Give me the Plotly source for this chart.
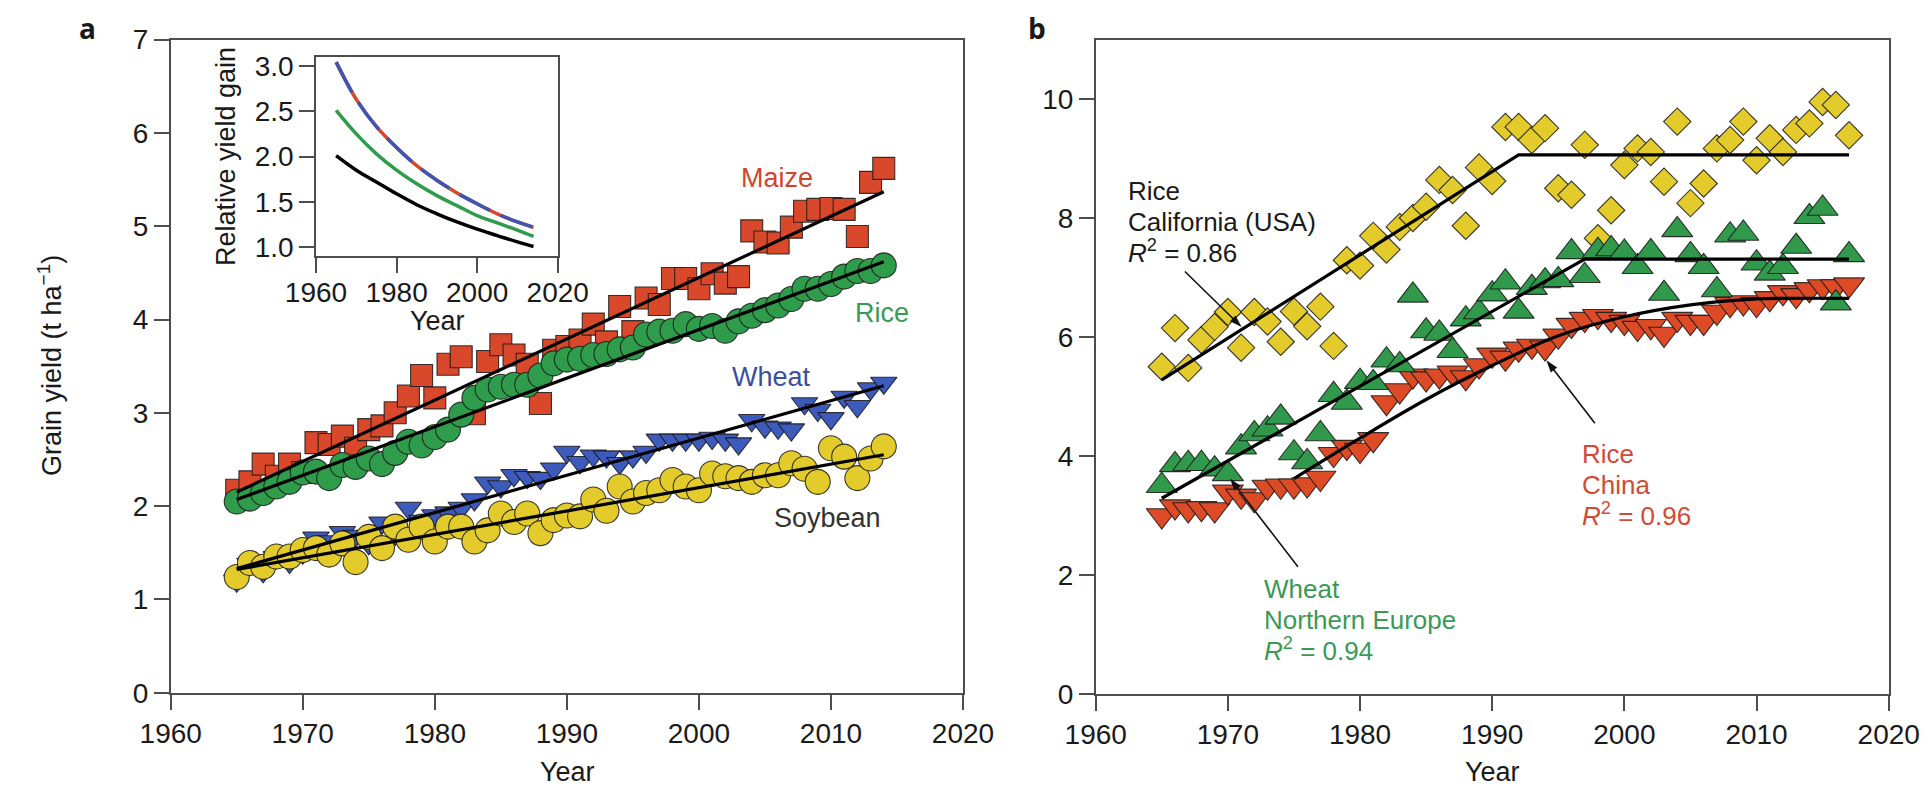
import plotly.graph_objects as go

# The page body has an 8 px margin; the figure is sized so that it fits the
# 1932x794 window exactly, and all pixel positions below are window pixels.
OFF = 8
FW, FH = 1932 - 2 * OFF, 794 - 2 * OFF
FONT = "Liberation Sans, Arial, Helvetica, sans-serif"

def px(x):
    return (x - OFF) / FW

def py(y):
    return 1 - (y - OFF) / FH

# ---------------- Panel a data (world average yields, t/ha) ----------------
years_a = list(range(1965, 2015))
maize = [2.17, 2.26, 2.45, 2.32, 2.45, 2.36, 2.68, 2.66, 2.75, 2.62,
         2.82, 2.86, 3.00, 3.18, 3.40, 3.16, 3.52, 3.60, 2.99, 3.55,
         3.73, 3.62, 3.52, 3.10, 3.67, 3.71, 3.78, 3.95, 3.76, 4.14,
         3.87, 4.23, 4.16, 4.44, 4.44, 4.33, 4.49, 4.39, 4.46, 4.95,
         4.83, 4.82, 4.99, 5.16, 5.18, 5.19, 5.18, 4.89, 5.47, 5.62]
rice = [2.05, 2.08, 2.14, 2.21, 2.26, 2.36, 2.37, 2.30, 2.44, 2.42,
        2.51, 2.45, 2.57, 2.69, 2.65, 2.74, 2.82, 2.98, 3.16, 3.25,
        3.28, 3.30, 3.30, 3.40, 3.53, 3.57, 3.58, 3.62, 3.63, 3.68,
        3.70, 3.84, 3.87, 3.88, 3.95, 3.90, 3.93, 3.88, 3.98, 4.04,
        4.10, 4.15, 4.22, 4.33, 4.33, 4.38, 4.46, 4.52, 4.52, 4.58]
wheat = [1.20, 1.38, 1.30, 1.45, 1.40, 1.50, 1.66, 1.62, 1.72, 1.68,
         1.60, 1.82, 1.70, 1.98, 1.84, 1.90, 1.93, 1.98, 2.07, 2.25,
         2.21, 2.33, 2.31, 2.30, 2.40, 2.58, 2.47, 2.54, 2.53, 2.46,
         2.53, 2.58, 2.71, 2.71, 2.71, 2.71, 2.73, 2.71, 2.67, 2.92,
         2.85, 2.84, 2.82, 3.10, 3.03, 2.94, 3.17, 3.07, 3.26, 3.32]
soybean = [1.24, 1.39, 1.35, 1.46, 1.46, 1.53, 1.55, 1.48, 1.60, 1.40,
           1.67, 1.55, 1.78, 1.64, 1.78, 1.62, 1.78, 1.78, 1.62, 1.74,
           1.92, 1.83, 1.92, 1.71, 1.85, 1.90, 1.89, 2.07, 1.95, 2.21,
           2.05, 2.14, 2.17, 2.28, 2.21, 2.17, 2.35, 2.32, 2.30, 2.26,
           2.33, 2.33, 2.46, 2.40, 2.26, 2.62, 2.53, 2.30, 2.51, 2.64]

# linear trend lines (end points)
fit_years_a = [1965, 2014]
maize_fit = [2.15, 5.37]
rice_fit = [2.07, 4.62]
wheat_fit = [1.33, 3.29]
soybean_fit = [1.32, 2.55]

# inset: relative yield gain
inset_years = [1965, 1970, 1975, 1980, 1985, 1990, 1995, 2000, 2005, 2010, 2014]
gain_maize_wheat = [3.04, 2.63, 2.33, 2.10, 1.90, 1.74, 1.60, 1.48, 1.37, 1.28, 1.22]
gain_rice = [2.51, 2.25, 2.03, 1.85, 1.70, 1.57, 1.46, 1.35, 1.27, 1.19, 1.12]
gain_soybean = [2.01, 1.85, 1.72, 1.59, 1.47, 1.37, 1.28, 1.20, 1.13, 1.06, 1.01]

# ---------------- Panel b data ----------------
years_b = list(range(1965, 2018))
rice_california = [5.50, 6.15, 5.48, 5.95, 6.17, 6.42, 5.82, 6.42, 6.26, 5.92,
                   6.43, 6.18, 6.51, 5.85, 7.29, 7.20, 7.70, 7.47, 7.85, 8.00,
                   8.19, 8.64, 8.47, 7.87, 8.85, 8.62, 9.53, 9.53, 9.31, 9.51,
                   8.50, 8.39, 9.23, 7.66, 8.13, 8.89, 9.17, 9.11, 8.61, 9.62,
                   8.25, 8.58, 9.17, 9.31, 9.62, 8.97, 9.34, 9.11, 9.48, 9.59,
                   9.95, 9.90, 9.39]
wheat_neurope = [3.50, 3.85, 3.87, 3.87, 3.78, 3.70, 4.15, 4.37, 4.45, 4.65,
                 4.05, 3.90, 4.37, 5.03, 4.90, 5.25, 5.23, 5.61, 5.53, 6.70,
                 6.10, 6.06, 5.77, 6.30, 6.42, 6.72, 6.92, 6.43, 6.83, 6.94,
                 6.96, 7.43, 7.03, 7.45, 7.48, 7.42, 7.18, 7.43, 6.73, 7.80,
                 7.38, 7.18, 6.79, 7.71, 7.74, 7.24, 7.07, 7.18, 7.52, 8.02,
                 8.16, 6.57, 7.38]
rice_china = [3.00, 3.15, 3.10, 3.12, 3.10, 3.40, 3.33, 3.27, 3.48, 3.50,
              3.50, 3.52, 3.63, 4.03, 4.15, 4.10, 4.28, 4.90, 5.10, 5.35,
              5.30, 5.35, 5.40, 5.32, 5.52, 5.70, 5.65, 5.80, 5.85, 5.82,
              6.02, 6.20, 6.30, 6.35, 6.30, 6.25, 6.15, 6.18, 6.05, 6.30,
              6.25, 6.25, 6.42, 6.55, 6.58, 6.55, 6.65, 6.75, 6.70, 6.80,
              6.85, 6.85, 6.88]

# piecewise fits
cal_fit_years = [1965, 1992, 2017]
cal_fit = [5.28, 9.06, 9.06]
wne_fit_years = [1965, 1997, 2017]
wne_fit = [3.29, 7.31, 7.31]
china_fit_years = [1975, 1980, 1985, 1990, 1995, 2000, 2005, 2010, 2012, 2017]
china_fit = [3.62, 4.30, 4.95, 5.52, 6.02, 6.34, 6.54, 6.64, 6.65, 6.65]

# annotation arrows in panel b: ([tail year, head year], [tail value, head value])
arrow_cal = ([1966.75, 1971.04], [7.10, 6.17])
arrow_wne = ([1975.3, 1970.16], [2.14, 3.62])
arrow_china = ([1997.77, 1994.1], [4.55, 5.61])

# ---------------- colours ----------------
C_RED = "#d9482a"
C_GREEN = "#2f9c4b"
C_BLUE = "#3d5bbd"
C_YELLOW = "#e4cb2c"
EDGE = "rgba(25,25,25,0.85)"

fig = go.Figure()

def markers(x, y, symbol, size, color, xa, ya):
    fig.add_trace(go.Scatter(
        x=x, y=y, mode="markers", xaxis=xa, yaxis=ya, showlegend=False,
        hoverinfo="skip",
        marker=dict(symbol=symbol, size=size, color=color,
                    line=dict(color=EDGE, width=1.1))))

def line(x, y, xa, ya, color="black", width=3.2, dash="solid", shape="linear"):
    fig.add_trace(go.Scatter(
        x=x, y=y, mode="lines", xaxis=xa, yaxis=ya, showlegend=False,
        hoverinfo="skip",
        line=dict(color=color, width=width, dash=dash, shape=shape)))

def arrow(xy, xa, ya):
    fig.add_trace(go.Scatter(
        x=xy[0], y=xy[1], mode="lines+markers", xaxis=xa, yaxis=ya,
        showlegend=False, hoverinfo="skip",
        line=dict(color="#111111", width=1.6),
        marker=dict(symbol=["circle", "arrow"], size=[1, 13],
                    opacity=[0, 1], angleref="previous", color="#111111",
                    line=dict(width=0))))

# Panel a
markers(years_a, maize, "square", 22, C_RED, "x", "y")
markers(years_a, rice, "circle", 25, C_GREEN, "x", "y")
markers(years_a, wheat, "triangle-down", 23, C_BLUE, "x", "y")
markers(years_a, soybean, "circle", 25, C_YELLOW, "x", "y")
for f in (maize_fit, rice_fit, wheat_fit, soybean_fit):
    line(fit_years_a, f, "x", "y")

# Inset
line(inset_years, gain_soybean, "x3", "y3", color="black", width=3.5, shape="spline")
line(inset_years, gain_rice, "x3", "y3", color=C_GREEN, width=3.5, shape="spline")
line(inset_years, gain_maize_wheat, "x3", "y3", color=C_RED, width=3.5, shape="spline")
line(inset_years, gain_maize_wheat, "x3", "y3", color="#3d55b3", width=3.5,
     dash="34px,12px", shape="spline")

# Panel b
markers(years_b, rice_california, "diamond", 21, C_YELLOW, "x2", "y2")
markers(years_b, rice_china, "triangle-down", 27, "#dc4b26", "x2", "y2")
markers(years_b, wheat_neurope, "triangle-up", 27, "#31994b", "x2", "y2")
line(cal_fit_years, cal_fit, "x2", "y2")
line(wne_fit_years, wne_fit, "x2", "y2")
line(china_fit_years, china_fit, "x2", "y2", shape="spline")
arrow(arrow_cal, "x2", "y2")
arrow(arrow_wne, "x2", "y2")
arrow(arrow_china, "x2", "y2")

AX = dict(showline=True, linecolor="#4d4d4d", linewidth=1.6, mirror=True,
          ticks="outside", ticklen=15, tickwidth=1.6, tickcolor="#4d4d4d",
          showgrid=False, zeroline=False, automargin=False,
          tickfont=dict(family=FONT, size=28, color="#1a1a1a"))

fig.update_layout(
    width=FW, height=FH,
    margin=dict(l=0, r=0, t=0, b=0, pad=0, autoexpand=False),
    paper_bgcolor="white", plot_bgcolor="white",
    xaxis=dict(AX, domain=[px(170.7), px(963)], range=[1960, 2020],
               tickvals=[1960, 1970, 1980, 1990, 2000, 2010, 2020], anchor="y"),
    yaxis=dict(AX, domain=[py(692.7), py(39.6)], range=[0, 7],
               tickvals=[0, 1, 2, 3, 4, 5, 6, 7], anchor="x"),
    xaxis2=dict(AX, domain=[px(1095.7), px(1888.7)], range=[1960, 2020],
                tickvals=[1960, 1970, 1980, 1990, 2000, 2010, 2020], anchor="y2"),
    yaxis2=dict(AX, domain=[py(694), py(39.5)], range=[0, 11],
                tickvals=[0, 2, 4, 6, 8, 10], anchor="x2"),
    xaxis3=dict(AX, domain=[px(316), px(557.7)], range=[1960, 2020],
                tickvals=[1960, 1980, 2000, 2020], anchor="y3",
                ticklabelstandoff=-4),
    yaxis3=dict(AX, domain=[py(256), py(56.7)], range=[0.905, 3.10],
                tickvals=[1.0, 1.5, 2.0, 2.5, 3.0],
                ticktext=["1.0", "1.5", "2.0", "2.5", "3.0"], anchor="x3"),
)

ann = []

def text(x, y, s, color="#1a1a1a", size=27, xanchor="center", yanchor="middle",
         angle=0, family=FONT, align="center"):
    ann.append(dict(x=px(x), y=py(y), xref="paper", yref="paper", text=s,
                    showarrow=False, xanchor=xanchor, yanchor=yanchor,
                    textangle=angle, align=align, borderpad=0,
                    font=dict(family=family, size=size, color=color)))

def block(x, y, lines, color):
    # base font 24 gives ~31 px line spacing; glyphs drawn at 26 px
    s = "<br>".join('<span style="font-size:26px">%s</span>' % l for l in lines)
    text(x, y, s, color=color, size=24, xanchor="left", align="left")

# panel letters (box top at the top of the figure)
text(87, 8.5, "<b>a</b>", size=28, yanchor="top",
     family="Open Sans, DejaVu Sans, sans-serif")
text(1037, 8.5, "<b>b</b>", size=28, yanchor="top",
     family="Open Sans, DejaVu Sans, sans-serif")

# axis titles
text(50, 366, "Grain yield (t ha<sup>\u22121</sup>)", angle=-90)
text(567, 772, "Year")
text(1492, 772, "Year")
text(226, 157, "Relative yield gain", angle=-90)
text(437, 321, "Year")

# panel a labels
text(777, 178, "Maize", color="#d2442a")
text(882, 313, "Rice", color="#3a9a55")
text(771, 377, "Wheat", color="#3a4fa3")
text(827, 518, "Soybean", color="#333333")

# panel b labels
block(1126.7, 222, ["Rice", "California (USA)", "<i>R</i><sup>2</sup> = 0.86"], "#1a1a1a")
block(1263.3, 620, ["Wheat", "Northern Europe", "<i>R</i><sup>2</sup> = 0.94"], "#3a9a55")
block(1581, 485, ["Rice", "China", "<i>R</i><sup>2</sup> = 0.96"], "#d24a34")

fig.update_layout(annotations=ann)
fig.write_html("out.html")
